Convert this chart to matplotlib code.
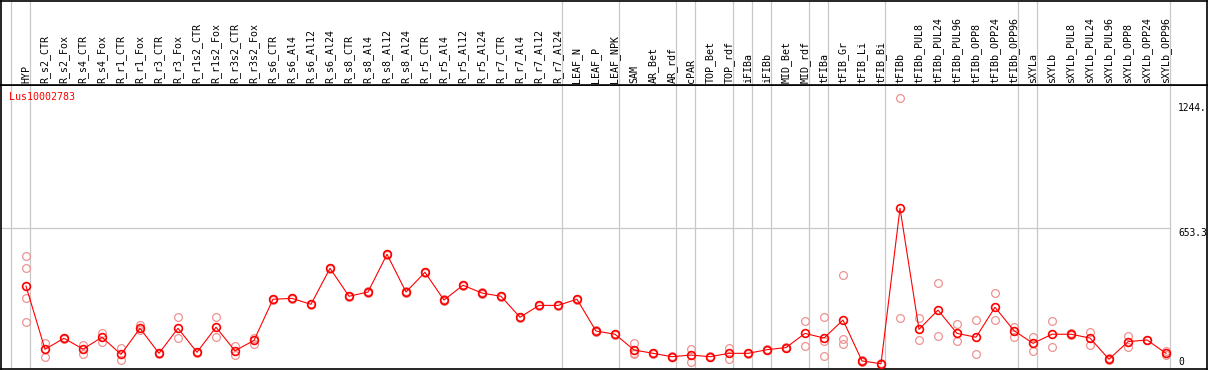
import matplotlib
matplotlib.use("Agg")
import matplotlib.pyplot as plt

categories = ["HYP", "R_s2_CTR", "R_s2_Fox", "R_s4_CTR", "R_s4_Fox", "R_r1_CTR", "R_r1_Fox",
              "R_r3_CTR", "R_r3_Fox", "R_r1s2_CTR", "R_r1s2_Fox", "R_r3s2_CTR", "R_r3s2_Fox",
              "R_s6_CTR", "R_s6_Al4", "R_s6_Al12", "R_s6_Al24", "R_s8_CTR", "R_s8_Al4", "R_s8_Al12",
              "R_s8_Al24", "R_r5_CTR", "R_r5_Al4", "R_r5_Al12", "R_r5_Al24", "R_r7_CTR", "R_r7_Al4",
              "R_r7_Al12", "R_r7_Al24", "LEAF_N", "LEAF_P", "LEAF_NPK", "SAM", "AR_Bet", "AR_rdf",
              "cPAR", "TOP_Bet", "TOP_rdf", "iFIBa", "iFIBb", "MID_Bet", "MID_rdf", "tFIBa",
              "tFIB_Gr", "tFIB_Li", "tFIB_Bi", "tFIBb", "tFIBb_PUL8", "tFIBb_PUL24", "tFIBb_PUL96",
              "tFIBb_OPP8", "tFIBb_OPP24", "tFIBb_OPP96", "sXYLa", "sXYLb", "sXYLb_PUL8",
              "sXYLb_PUL24", "sXYLb_PUL96", "sXYLb_OPP8", "sXYLb_OPP24", "sXYLb_OPP96"]

means = [381, 83, 135, 84, 140, 59, 182, 64, 182, 69, 187, 76, 125,
         319, 323, 295, 465, 333, 353, 531, 353, 446, 315, 385, 348, 333, 234, 290, 290,
         319, 169, 154, 80, 64, 48, 56, 48, 64, 64, 81, 91, 158, 136, 221, 28, 15,
         748, 177, 268, 158, 140, 281, 171, 111, 154, 154, 136, 36, 119, 127, 64]

replicates = [[523, 465, 323, 212], [111, 48], [132, 138], [103, 62], [161, 117], [89, 31],
              [196, 174], [62, 66], [234, 135], [67, 71], [234, 140], [100, 56], [138, 109],
              [316, 322], [320, 326], [292, 298], [462, 468], [330, 336], [350, 356], [528, 534],
              [350, 356], [443, 449], [312, 318], [382, 388], [345, 351], [330, 336], [231, 237],
              [287, 293], [287, 293], [316, 322], [166, 172], [151, 157], [111, 66, 63], [62, 66],
              [46, 50], [84, 25], [46, 50], [91, 36], [62, 66], [79, 83], [89, 93], [215, 99],
              [234, 121, 50], [433, 133, 108], [34, 22], [13, 17], [1266, 229], [229, 125],
              [396, 144], [202, 121], [221, 59], [347, 221], [190, 143], [140, 76], [215, 92],
              [158, 150], [165, 105], [40, 32], [146, 92], [125, 129], [76, 55]]

group_ends = [-1, 0, 28, 31, 34, 35, 37, 38, 39, 41, 42, 45, 52, 53, 60]
gene = "Lus10002783"
axis_marks = [1244, 653.3, 0]
axis_texts = ["1244.", "653.3", "0"]

W, H = 1209, 370
fig = plt.figure(figsize=(W / 100, H / 100), dpi=100)

# pixel geometry
x_left, x_right = 1, 1207
y_head, y_bot = 85, 369
x0_px, dx_px = 26, 19
v0_px, k_px = 366.9, 0.2121

xlim = ((x_left - x0_px) / dx_px, (x_right - x0_px) / dx_px)
ylim = ((v0_px - y_bot) / k_px, (v0_px - y_head) / k_px)

ax = fig.add_axes([x_left / W, (H - y_bot) / H, (x_right - x_left) / W, (y_bot - y_head) / H])
hx = fig.add_axes([x_left / W, (H - y_head) / H, (x_right - x_left) / W, (y_head - 0.5) / H])

grey = "#c8c8c8"
for a in (ax, hx):
    a.set_xlim(*xlim)
    a.set_xticks([])
    a.set_yticks([])
    for s in a.spines.values():
        s.set_color("black")
        s.set_linewidth(1.2)
    for g in group_ends:
        a.axvline(g + 0.23, color=grey, lw=0.9, zorder=1)

ax.set_ylim(*ylim)
hx.set_ylim(0, y_head)

xs = list(range(len(categories)))

# horizontal reference line
ax.plot([xlim[0], group_ends[-1] + 0.23], [axis_marks[1], axis_marks[1]], color=grey, lw=0.9, zorder=1)

# replicates
for i, reps in enumerate(replicates):
    ax.plot([i] * len(reps), reps, linestyle="none", marker="o", markersize=5.6,
            markerfacecolor="none", markeredgecolor="#ee9292", markeredgewidth=0.9, zorder=2)

# means
ax.plot(xs, means, color="#ff0000", lw=0.8, marker="o", markersize=5.6,
        markerfacecolor="none", markeredgecolor="#ff0000", markeredgewidth=1.2, zorder=3)

mono = "DejaVu Sans Mono"
for i, c in enumerate(categories):
    hx.text(i, 1.8, c, rotation=90, ha="center", va="bottom", fontsize=7.2,
            family=mono, color="black")

ax.text((9.3 - x_left) / (x_right - x_left), (y_bot - 92.5) / (y_bot - y_head), gene,
        transform=ax.transAxes, ha="left", va="top", fontsize=7.2, family=mono, color="#ff0000")

xt = (1178 - x0_px) / dx_px
for v, t in zip(axis_marks, axis_texts):
    ax.text(xt, v, t, ha="left", va="top" if v > 0 else "bottom", fontsize=6.9,
            family=mono, color="black", clip_on=True)

fig.savefig("out.png", dpi=100)
